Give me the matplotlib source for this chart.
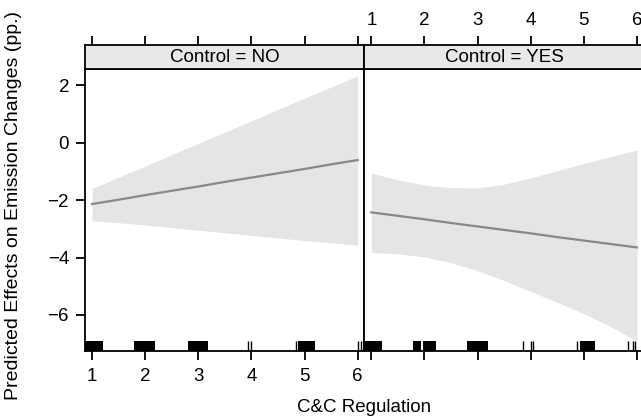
import matplotlib
matplotlib.use("Agg")
import matplotlib.pyplot as plt
import numpy as np

plt.rcParams['font.family'] = ['Liberation Sans', 'DejaVu Sans']

# ---- data ----
panels = ["Control = NO", "Control = YES"]
x_grid = [1, 1.5, 2, 2.5, 3, 3.5, 4, 4.5, 5, 5.5, 6]

fit_no   = [-2.14, -1.99, -1.83, -1.68, -1.53, -1.37, -1.22, -1.07, -0.92, -0.76, -0.61]
upper_no = [-1.60, -1.21, -0.82, -0.42, -0.03, 0.36, 0.75, 1.15, 1.54, 1.93, 2.32]
lower_no = [-2.72, -2.79, -2.87, -2.96, -3.05, -3.14, -3.23, -3.32, -3.41, -3.49, -3.57]

fit_yes   = [-2.43, -2.55, -2.67, -2.80, -2.92, -3.04, -3.16, -3.29, -3.41, -3.53, -3.65]
upper_yes = [-1.06, -1.30, -1.48, -1.57, -1.58, -1.45, -1.23, -0.98, -0.73, -0.49, -0.26]
lower_yes = [-3.83, -3.87, -3.98, -4.18, -4.46, -4.80, -5.18, -5.56, -5.95, -6.40, -6.90]

# rug: dense clusters (intervals) and isolated observations
rug_blocks_no = [(0.80, 1.21), (1.79, 2.19), (2.81, 3.18), (4.87, 5.20)]
rug_lines_no = [3.94, 4.00, 4.84, 6.00, 6.07]
rug_blocks_yes = [(0.80, 1.21), (1.79, 1.93), (1.98, 2.22), (2.80, 3.20), (4.92, 5.21)]
rug_lines_yes = [3.85, 4.00, 4.05, 4.88, 5.83, 5.92, 5.97]

x_ticks = [1, 2, 3, 4, 5, 6]
y_ticks = [-6, -4, -2, 0, 2]

xlabel = "C&C Regulation"
ylabel = "Predicted Effects on Emission Changes (pp.)"

# ---- layout ----
W_PX, H_PX = 641, 417
fig = plt.figure(figsize=(W_PX / 100, H_PX / 100), dpi=100)

def fx(px):
    return px / W_PX

def fy(px):
    return (H_PX - px) / H_PX

panel_left = [85.0, 364.3]
panel_w = 279.3
panel_top, panel_bot = 69.0, 350.5
strip_top = 45.0

FS = 13.5
band_col = "#e5e5e5"
line_col = "#888888"
strip_col = "#e8e8e8"
lw_frame = 1.3
tick_len = 6.5

data = [
    (fit_no, upper_no, lower_no, rug_blocks_no, rug_lines_no),
    (fit_yes, upper_yes, lower_yes, rug_blocks_yes, rug_lines_yes),
]

xlim = (0.868, 6.125)
ylim = (-7.235, 2.557)
rug_h = 10.0 / (panel_bot - panel_top)

for i, (fit, up, lo, blocks, lines) in enumerate(data):
    ax = fig.add_axes([fx(panel_left[i]), fy(panel_bot), fx(panel_w),
                       (panel_bot - panel_top) / H_PX])
    ax.fill_between(x_grid, lo, up, color=band_col, lw=0, zorder=1)
    ax.plot(x_grid, fit, color=line_col, lw=1.6, zorder=2)
    for (a, b) in blocks:
        ax.axvspan(a, b, ymin=0, ymax=rug_h, color="black", lw=0, zorder=3)
    ax.vlines(lines, 0, rug_h, transform=ax.get_xaxis_transform(),
              color="black", lw=1.0, zorder=3)
    ax.set_xlim(*xlim)
    ax.set_ylim(*ylim)
    ax.set_xticks(x_ticks)
    ax.set_yticks(y_ticks)
    for s in ax.spines.values():
        s.set_linewidth(lw_frame)
    ax.tick_params(axis="both", direction="out", length=tick_len, width=lw_frame,
                   labelsize=FS, pad=5)
    ax.tick_params(axis="x", top=False, bottom=True, labelbottom=(i == 0), pad=6)
    if i == 0:
        ax.tick_params(axis="y", left=True, right=False, labelleft=True)
    else:
        ax.tick_params(axis="y", left=False, right=True, labelleft=False,
                       labelright=False)

    # strip
    sx = fig.add_axes([fx(panel_left[i]), fy(panel_top), fx(panel_w),
                       (panel_top - strip_top) / H_PX])
    sx.set_facecolor(strip_col)
    sx.set_xlim(*xlim)
    sx.set_ylim(0, 1)
    sx.set_yticks([])
    sx.set_xticks(x_ticks)
    for s in sx.spines.values():
        s.set_linewidth(lw_frame)
    sx.tick_params(axis="x", direction="out", length=tick_len, width=lw_frame,
                   labelsize=FS, top=True, bottom=False, labeltop=(i == 1),
                   labelbottom=False, pad=5)
    sx.text(0.5, 0.5, panels[i], transform=sx.transAxes, ha="center",
            va="center", fontsize=FS)

fig.text(fx(364), fy(407), xlabel, ha="center", va="center", fontsize=FS)
fig.text(fx(14), fy(206), ylabel, ha="center", va="center", rotation=90,
         fontsize=14)

fig.savefig("out.png", dpi=100)
